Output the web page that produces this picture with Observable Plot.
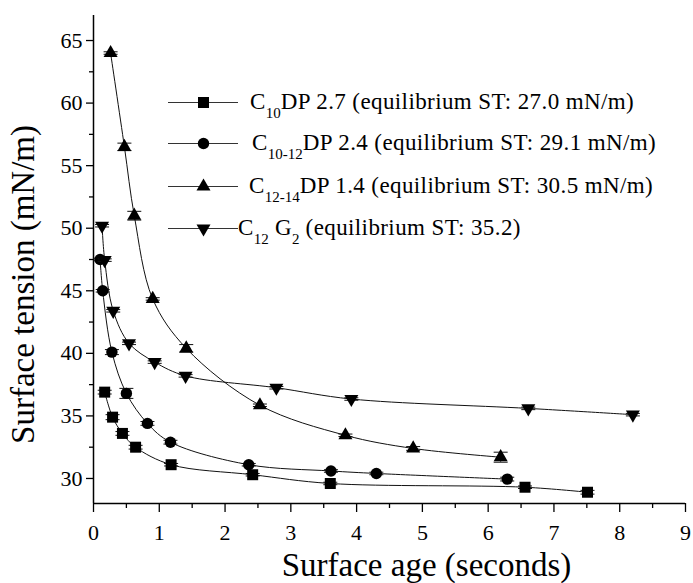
<!DOCTYPE html>
<html>
<head>
<meta charset="utf-8">
<script src="https://cdn.jsdelivr.net/npm/d3@7"></script>
<script src="https://cdn.jsdelivr.net/npm/@observablehq/plot@0.6"></script>
<style>
  body { margin: 0; background: #fff; }
  #wrap { position: relative; width: 693px; height: 583px; font-family: "Liberation Serif", "Times New Roman", serif; }
  #legend { position: absolute; left: 0; top: 0; }
  .row { position: absolute; left: 168px; height: 40px; display: flex; align-items: center; white-space: nowrap; font-size: 23px; letter-spacing: 0.4px; color: #000; }
  .row svg { flex: none; }
  .row sub { font-size: 15px; vertical-align: -9px; line-height: 0; letter-spacing: 0; }
</style>
</head>
<body>
<div id="wrap"><div id="legend"></div></div>
<script>
// ---- data ----
const xTicks = [0, 1, 2, 3, 4, 5, 6, 7, 8, 9];
const xMinor = [0.5, 1.5, 2.5, 3.5, 4.5, 5.5, 6.5, 7.5, 8.5];
const yTicks = [30, 35, 40, 45, 50, 55, 60, 65];
const yMinor = [32.5, 37.5, 42.5, 47.5, 52.5, 57.5, 62.5];

const xLabel = "Surface age (seconds)";
const yLabel = "Surface tension (mN/m)";

// C10 DP 2.7
const c10X   = [0.17, 0.29, 0.44, 0.64, 1.18, 2.42, 3.60, 6.56, 7.51];
const c10Y   = [36.9, 34.9, 33.6, 32.5, 31.1, 30.3, 29.6, 29.3, 28.9];
const c10Err = [0.15, 0.2, 0.15, 0.15, 0.1, 0.1, 0.1, 0.1, 0.15];

// C10-12 DP 2.4
const c1012X   = [0.10, 0.14, 0.28, 0.50, 0.82, 1.17, 2.36, 3.61, 4.30, 6.29];
const c1012Y   = [47.5, 45.0, 40.1, 36.8, 34.4, 32.9, 31.1, 30.6, 30.4, 29.95];
const c1012Err = [0.1, 0.1, 0.2, 0.4, 0.15, 0.15, 0.1, 0.1, 0.1, 0.15];

// C12-14 DP 1.4
const c1214X   = [0.26, 0.47, 0.62, 0.90, 1.41, 2.53, 3.83, 4.86, 6.19];
const c1214Y   = [64.0, 56.5, 51.0, 44.35, 40.4, 35.85, 33.45, 32.4, 31.7];
const c1214Err = [0.1, 0.3, 0.35, 0.1, 0.3, 0.1, 0.1, 0.15, 0.4];

// C12 G2
const c12g2X   = [0.13, 0.17, 0.30, 0.54, 0.93, 1.40, 2.78, 3.92, 6.61, 8.20];
const c12g2Y   = [50.2, 47.45, 43.4, 40.8, 39.3, 38.2, 37.25, 36.35, 35.6, 35.1];
const c12g2Err = [0.1, 0.1, 0.1, 0.1, 0.1, 0.1, 0.1, 0.1, 0.1, 0.1];

// legend labels (main, subscript, rest)
const legendLabels = [
  ["C", "10", "DP 2.7 (equilibrium ST: 27.0 mN/m)"],
  ["C", "10-12", "DP 2.4 (equilibrium ST: 29.1 mN/m)"],
  ["C", "12-14", "DP 1.4 (equilibrium ST: 30.5 mN/m)"],
  ["C", "12", " G<sub>2</sub> (equilibrium ST: 35.2)"]
];

// ---- build tidy tables ----
function table(xs, ys, es) { return xs.map((x, i) => ({x, y: ys[i], e: es[i]})); }
const series = [
  {data: table(c10X, c10Y, c10Err), symbol: "square", r: 6.2, rotate: 0},
  {data: table(c1012X, c1012Y, c1012Err), symbol: "circle", r: 5.7, rotate: 0},
  {data: table(c1214X, c1214Y, c1214Err), symbol: "triangle", r: 5.2, rotate: 0},
  {data: table(c12g2X, c12g2Y, c12g2Err), symbol: "triangle", r: 5.2, rotate: 180}
];

const capSymbol = { draw(ctx, size) { const w = 7; ctx.moveTo(-w, 0); ctx.lineTo(w, 0); } };

const marks = [
  Plot.axisX({ticks: xTicks, tickSize: 9, tickPadding: 12, fontSize: 22, label: null, strokeWidth: 1.3}),
  Plot.axisX({ticks: xMinor, tickSize: 5, text: null, label: null, strokeWidth: 1.3}),
  Plot.axisY({ticks: yTicks, tickSize: 7, tickPadding: 4, fontSize: 22, label: null, strokeWidth: 1.3}),
  Plot.axisY({ticks: yMinor, tickSize: 4, text: null, label: null, strokeWidth: 1.3}),
  Plot.ruleX([0], {strokeWidth: 1.5}),
  Plot.ruleY([28], {strokeWidth: 1.5}),
  Plot.text([xLabel], {text: d => d, frameAnchor: "bottom", textAnchor: "middle", lineAnchor: "middle", dx: 37, dy: 62, fontSize: 33}),
  Plot.text([yLabel], {text: d => d, frameAnchor: "left", textAnchor: "middle", lineAnchor: "middle", rotate: -90, dx: -70, dy: 25, fontSize: 33})
];
for (const s of series) {
  marks.push(Plot.line(s.data, {x: "x", y: "y", curve: "catmull-rom", stroke: "#111", strokeWidth: 1}));
  marks.push(Plot.ruleX(s.data, {x: "x", y1: d => d.y - d.e, y2: d => d.y + d.e, stroke: "#111", strokeWidth: 1}));
  marks.push(Plot.dot(s.data, {x: "x", y: d => d.y - d.e, symbol: capSymbol, stroke: "#111", strokeWidth: 1, r: 3}));
  marks.push(Plot.dot(s.data, {x: "x", y: d => d.y + d.e, symbol: capSymbol, stroke: "#111", strokeWidth: 1, r: 3}));
  marks.push(Plot.dot(s.data, {x: "x", y: "y", symbol: s.symbol, r: s.r, rotate: s.rotate, fill: "#000", stroke: "none"}));
}

const chart = Plot.plot({
  width: 693, height: 583,
  marginLeft: 93, marginRight: 8, marginTop: 15, marginBottom: 80,
  style: {fontFamily: "'Liberation Serif', 'Times New Roman', serif", fontSize: "22px", color: "#000", background: "#fff", overflow: "visible"},
  x: {domain: [0, 9]},
  y: {domain: [28, 67]},
  marks
});
document.getElementById("wrap").prepend(chart);

// ---- legend (HTML overlay) ----
const legendY = [102, 143, 186, 228];
const legendGap = [12, 14, 11, 0];
const legend = document.getElementById("legend");
legendLabels.forEach((lab, i) => {
  const s = series[i];
  const row = document.createElement("div");
  row.className = "row";
  row.style.top = (legendY[i] - 20) + "px";
  const sample = Plot.plot({
    width: 70, height: 40, margin: 0,
    x: {domain: [0, 1], axis: null}, y: {domain: [0, 1], axis: null},
    marks: [
      Plot.ruleY([0.5], {stroke: "#333", strokeWidth: 1}),
      Plot.dot([{x: 0.5, y: 0.5}], {x: "x", y: "y", symbol: s.symbol, r: s.r, rotate: s.rotate, fill: "#000", stroke: "none"})
    ]
  });
  sample.style.background = "transparent";
  row.appendChild(sample);
  const txt = document.createElement("span");
  txt.style.marginLeft = legendGap[i] + "px";
  txt.innerHTML = lab[0] + "<sub>" + lab[1] + "</sub>" + lab[2];
  row.appendChild(txt);
  legend.appendChild(row);
});
</script>
</body>
</html>
